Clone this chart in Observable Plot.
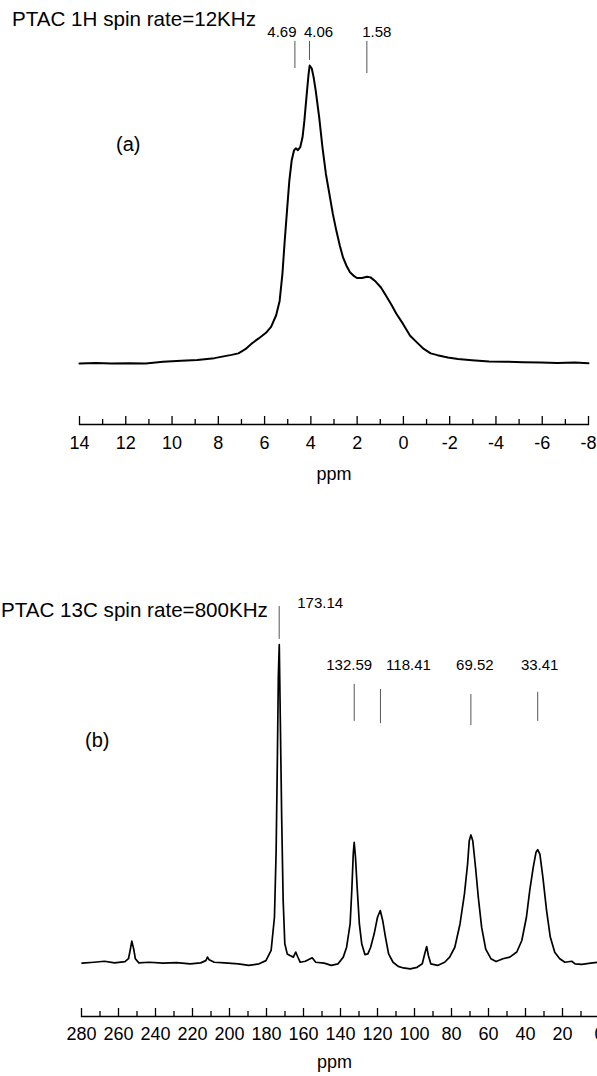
<!DOCTYPE html>
<html><head><meta charset="utf-8">
<script src="https://cdn.jsdelivr.net/npm/d3@7"></script>
<script src="https://cdn.jsdelivr.net/npm/@observablehq/plot@0.6"></script>
<style>
html,body{margin:0;padding:0;background:#fff;}
body{width:597px;height:1076px;position:relative;overflow:hidden;font-family:"Liberation Sans",Arial,sans-serif;color:#000;}
.t{position:absolute;white-space:nowrap;font-size:20.6px;line-height:20px;}
.p{position:absolute;left:0;}
</style></head><body>
<div id="pa" class="p" style="top:0"></div>
<div id="pb" class="p" style="top:560px"></div>
<div class="t" style="left:12px;top:9px">PTAC 1H spin rate=12KHz</div>
<div class="t" style="left:1px;top:600px">PTAC 13C spin rate=800KHz</div>
<div class="t" style="left:116px;top:134px;font-size:20px">(a)</div>
<div class="t" style="left:85px;top:730px;font-size:20px">(b)</div>
<script>
// ---- Panel (a): 1H spectrum ----
const hPpm = [14.00,13.3,12.62,11.9,11.14,10.39,9.6,8.91,8.17,7.43,7.13,6.83,6.54,6.24,5.94,5.72,5.50,5.35,5.23,5.13,5.02,4.93,4.83,4.73,4.65,4.56,4.46,4.36,4.28,4.19,4.10,4.05,3.96,3.88,3.79,3.64,3.50,3.35,3.20,3.05,2.90,2.75,2.61,2.46,2.31,2.16,2.01,1.79,1.57,1.42,1.20,0.97,0.75,0.53,0.31,0.01,-0.29,-0.58,-0.88,-1.18,-1.47,-1.92,-2.36,-2.96,-3.70,-4.44,-5.18,-5.93,-6.67,-7.41,-8.00];
const hInt = [0,0.2,0,0.1,0,0.6,0.9,1.2,1.8,2.9,3.4,4.8,6.8,8.5,10.3,12.3,16.2,21.0,30.0,41.2,52.4,61.4,68.1,71.5,72.2,71.6,72.6,75.9,81.5,89.4,97.0,100,99,96,91.6,82.6,72.6,63.6,56.9,50.2,44.6,39.6,35.6,32.8,30.6,29.5,28.7,28.7,29.1,28.9,27.5,25.5,22.7,19.9,16.8,13.2,9.3,7.1,4.9,3.4,2.8,2.0,1.5,1.1,0.7,0.6,0.4,0.3,0.2,0.3,0.1];
const hMarkPpm = [4.69, 4.06, 1.58];
const hMarkLabel = ["4.69", "4.06", "1.58"];
const hMarkTop = [108.1, 108.1, 108.1];
const hMarkBottom = [99.0, 101.7, 97.3];
const hTicks = [14,12,10,8,6,4,2,0,-2,-4,-6,-8];
const hMinor = [13,11,9,7,5,3,1,-1,-3,-5,-7];

// ---- Panel (b): 13C spectrum ----
const cPpm = [279.7,273.2,267.6,262.1,256.5,254.6,253.7,252.8,251.8,250.9,249.0,243.5,236.0,228.6,221.2,215.6,212.8,211.9,211.0,208.2,202.6,195.2,189.6,184.0,180.3,177.5,175.7,174.8,174.1,173.6,173.1,172.5,171.8,171.0,170.1,168.8,167.3,165.5,164.2,163.2,161.8,159.0,155.3,153.4,148.8,145.0,141.3,138.5,136.7,134.8,133.9,133.1,132.6,131.9,130.9,129.8,128.5,126.8,125.2,123.7,121.8,120.0,118.5,117.2,115.7,114.0,111.6,108.8,106.0,102.3,98.6,95.8,94.5,93.4,92.5,91.2,87.5,83.7,81.0,78.2,75.4,73.0,71.3,70.4,69.5,68.5,67.0,65.5,63.7,61.5,58.7,55.9,52.2,48.5,44.7,42.0,39.5,37.7,35.8,34.3,33.4,32.2,30.6,28.6,26.6,24.2,21.5,18.7,15.0,13.2,9.5,4.8,0.5,0];
const cInt = [0.1,0.4,0.7,0.2,0.6,1.5,4.1,7.0,4.6,1.5,0.2,0.4,0.1,0.3,-0.1,0.2,0.9,2.0,1.2,0.4,0.2,-0.1,-0.6,-0.1,0.9,4.1,14.5,35,65,90,100,75,45.9,19.9,6.2,3.0,2.5,2.0,3.6,2.2,0.4,0.7,1.8,0.4,0.1,-0.6,-0.1,2.0,5.1,12.4,22.9,34.4,38.0,33.3,22.9,12.4,6.1,2.8,3.0,5.1,9.3,14.5,16.6,13.5,8.3,3.0,0.4,-0.9,-1.4,-1.7,-1.2,-0.1,3.0,5.3,2.5,-0.1,-0.6,0.4,2.0,5.1,12.4,21.8,31.2,38.5,40.3,38.5,30.1,20.7,11.3,4.5,1.5,0.6,1.5,2.0,3.6,7.2,14.5,22.9,30.2,34.9,35.7,34.2,27.0,16.6,8.3,3.5,1.5,0.4,0.7,-0.1,-0.3,0.1,0.4,0.3];
const cMarkPpm = [173.14, 132.59, 118.41, 69.52, 33.41];
const cMarkLabel = ["173.14", "132.59", "118.41", "69.52", "33.41"];
const cMarkTop = [111.9, 87.5, 85.9, 84.3, 85.0];
const cMarkBottom = [101.6, 75.9, 75.2, 74.6, 75.9];
const cTicks = [280,260,240,220,200,180,160,140,120,100,80,60,40,20,0];
const cMinor = [270,250,230,210,190,170,150,130,110,90,70,50,30,10];

const FONT = '"Liberation Sans", Arial, sans-serif';

const specA = hPpm.map((p, i) => ({ppm: p, int: hInt[i]}));
const markA = hMarkPpm.map((p, i) => ({ppm: p, label: hMarkLabel[i], top: hMarkTop[i], bottom: hMarkBottom[i]}));
const labelDxA = [-13, 9, 10];

const plotA = Plot.plot({
  width: 597, height: 500,
  marginLeft: 79, marginRight: 9, marginTop: 0, marginBottom: 76,
  x: {domain: [14, -8]},
  y: {domain: [0, 100], range: [363, 65], axis: null},
  style: {fontFamily: FONT, fontSize: "18px", background: "transparent", color: "#000"},
  marks: [
    Plot.frame({anchor: "bottom", strokeWidth: 1.4}),
    Plot.axisX(hMinor, {tickSize: -5, tickFormat: () => "", label: null, strokeWidth: 1.3}),
    Plot.axisX(hTicks, {tickSize: -8, tickPadding: 19.7, tickFormat: d => String(d), label: null, fontSize: 18, strokeWidth: 1.3}),
    Plot.text(["ppm"], {text: d => d, frameAnchor: "bottom", lineAnchor: "bottom", dy: 55, fontSize: 18}),
    Plot.line(specA, {x: "ppm", y: "int", stroke: "#000", strokeWidth: 2}),
    Plot.ruleX(markA, {x: "ppm", y1: "top", y2: "bottom", stroke: "#555", strokeWidth: 1}),
    ...markA.map((m, i) => Plot.text([m], {x: "ppm", text: "label", frameAnchor: "top", lineAnchor: "bottom", dy: 36, dx: labelDxA[i], fontSize: 15}))
  ]
});
document.getElementById("pa").appendChild(plotA);

const specB = cPpm.map((p, i) => ({ppm: p, int: cInt[i]}));
const markB = cMarkPpm.map((p, i) => ({ppm: p, label: cMarkLabel[i], top: cMarkTop[i], bottom: cMarkBottom[i]}));
const labelDxB = [41, -5, 28, 4, 2];
const labelDyB = [47, 109, 109, 109, 109];

const plotB = Plot.plot({
  width: 597, height: 516,
  marginLeft: 81, marginRight: 0, marginTop: 0, marginBottom: 60,
  x: {domain: [280, 0], range: [81, 599]},
  y: {domain: [0, 100], range: [403, 84], axis: null},
  style: {fontFamily: FONT, fontSize: "18px", background: "transparent", color: "#000"},
  marks: [
    Plot.frame({anchor: "bottom", strokeWidth: 1.4}),
    Plot.axisX(cMinor, {tickSize: -5, tickFormat: () => "", label: null, strokeWidth: 1.3}),
    Plot.axisX(cTicks, {tickSize: -8, tickPadding: 18.7, tickFormat: d => String(d), label: null, fontSize: 18, strokeWidth: 1.3}),
    Plot.text(["ppm"], {text: d => d, frameAnchor: "bottom", lineAnchor: "bottom", dy: 51, dx: -5, fontSize: 18}),
    Plot.line(specB, {x: "ppm", y: "int", stroke: "#000", strokeWidth: 1.7}),
    Plot.ruleX(markB, {x: "ppm", y1: "top", y2: "bottom", stroke: "#555", strokeWidth: 1}),
    ...markB.map((m, i) => Plot.text([m], {x: "ppm", text: "label", frameAnchor: "top", lineAnchor: "bottom", dy: labelDyB[i], dx: labelDxB[i], fontSize: 15}))
  ]
});
document.getElementById("pb").appendChild(plotB);
</script>
</body></html>
